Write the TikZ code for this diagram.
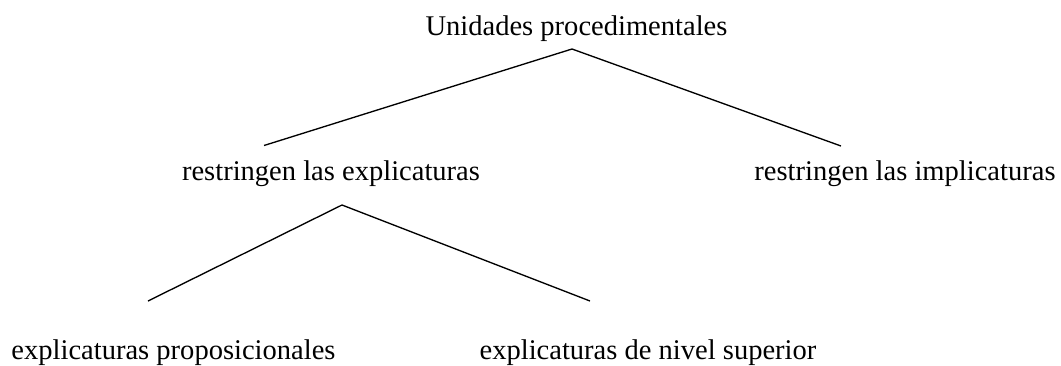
\documentclass[tikz,border=0pt]{standalone}
\usepackage{fontspec}
\setmainfont{Liberation Serif}
\begin{document}
\begin{tikzpicture}[x=0.75pt,y=-0.75pt,
  lbl/.style={anchor=base,inner sep=0pt,font=\fontsize{21.4}{25}\selectfont},
  branch/.style={line width=1pt,black}]
\useasboundingbox[fill=white] (0,0) rectangle (1061,365);
\node[lbl] (root) at (576.5,35) {Unidades procedimentales};
\node[lbl] (expl) at (331,180) {restringen las explicaturas};
\node[lbl] (impl) at (905,180) {restringen las implicaturas};
\node[lbl] (prop) at (173.5,359) {explicaturas proposicionales};
\node[lbl] (sup) at (648,359) {explicaturas de nivel superior};
\coordinate (a1) at (572,49);
\coordinate (a1l) at (264,145.5);
\coordinate (a1r) at (841,146);
\coordinate (a2) at (342,205);
\coordinate (a2l) at (148,301);
\coordinate (a2r) at (590,301);
\draw[branch] (a1l) -- (a1) -- (a1r);
\draw[branch] (a2l) -- (a2) -- (a2r);
\end{tikzpicture}
\end{document}
